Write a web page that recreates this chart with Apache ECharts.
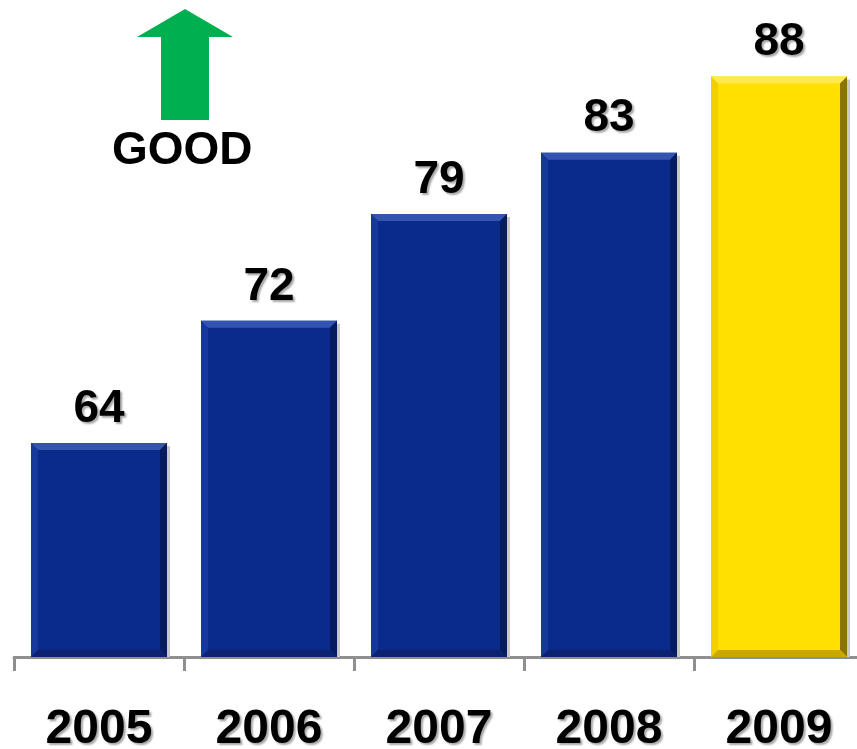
<!DOCTYPE html>
<html>
<head>
<meta charset="utf-8">
<script src="https://cdn.jsdelivr.net/npm/echarts@6/dist/echarts.min.js"></script>
<style>
html,body{margin:0;padding:0;background:#fff;}
#chart{width:857px;height:749px;}
</style>
</head>
<body>
<div id="chart"></div>
<script>
const categories = ['2005', '2006', '2007', '2008', '2009'];
const values = [64, 72, 79, 83, 88];
const highlightCategory = '2009';
const indicatorText = 'GOOD';

const palettes = {
  normal: { main: '#0a2a8c', top: '#3355ad', left: '#16389a', right: '#061c5e', bottom: '#0b2270' },
  highlight: { main: '#ffe000', top: '#ffea4d', left: '#f2cf00', right: '#8c7400', bottom: '#c9a900' }
};

const chart = echarts.init(document.getElementById('chart'));

function renderBar(params, api) {
  const idx = api.value(0);
  const val = api.value(1);
  const topPt = api.coord([idx, val]);
  const basePt = api.coord([idx, 50]);
  const w = api.size([1, 0])[0] * 0.8;
  const x0 = topPt[0] - w / 2, x1 = topPt[0] + w / 2;
  const y0 = topPt[1], y1 = basePt[1];
  const b = 7;
  const p = categories[idx] === highlightCategory ? palettes.highlight : palettes.normal;
  return {
    type: 'group',
    children: [
      { type: 'rect', shape: { x: x1, y: y0 + 3, width: 3, height: y1 - y0 - 3 }, style: { fill: '#c8c8c8' } },
      { type: 'rect', shape: { x: x0, y: y0, width: w, height: y1 - y0 }, style: { fill: p.main } },
      { type: 'polygon', shape: { points: [[x0, y0], [x1, y0], [x1 - b, y0 + b], [x0 + b, y0 + b]] }, style: { fill: p.top } },
      { type: 'polygon', shape: { points: [[x0, y0], [x0 + b, y0 + b], [x0 + b, y1 - b], [x0, y1]] }, style: { fill: p.left } },
      { type: 'polygon', shape: { points: [[x1, y0], [x1, y1], [x1 - b, y1 - b], [x1 - b, y0 + b]] }, style: { fill: p.right } },
      { type: 'polygon', shape: { points: [[x0, y1], [x0 + b, y1 - b], [x1 - b, y1 - b], [x1, y1]] }, style: { fill: p.bottom } },
      {
        type: 'text',
        x: topPt[0], y: y0 - 11,
        style: {
          text: String(val),
          fill: '#000',
          font: 'bold 46px "Liberation Sans", Arial, sans-serif',
          align: 'center', verticalAlign: 'bottom',
          textShadowColor: 'rgba(0,0,0,0.35)', textShadowOffsetX: 2, textShadowOffsetY: 2, textShadowBlur: 2
        }
      }
    ]
  };
}

chart.setOption({
  animation: false,
  grid: { left: 14, width: 850, top: 0, bottom: 92, containLabel: false, outerBoundsMode: 'none' },
  xAxis: {
    type: 'category',
    data: categories,
    boundaryGap: true,
    axisLine: { show: true, lineStyle: { color: '#8f8f8f', width: 3 } },
    axisTick: { show: true, alignWithLabel: false, interval: 0, length: 14, lineStyle: { color: '#8f8f8f', width: 3 } },
    axisLabel: {
      interval: 0, margin: 49, color: '#000',
      fontFamily: '"Liberation Sans", Arial, sans-serif', fontWeight: 'bold', fontSize: 48,
      textShadowColor: 'rgba(0,0,0,0.35)', textShadowOffsetX: 2, textShadowOffsetY: 2, textShadowBlur: 2
    }
  },
  yAxis: { type: 'value', min: 50, max: 93, show: false, splitLine: { show: false } },
  series: [{
    type: 'custom',
    renderItem: renderBar,
    data: values.map((v, i) => [i, v]),
    encode: { x: 0, y: 1 },
    clip: false
  }],
  graphic: [
    {
      type: 'polygon',
      shape: { points: [[185, 9], [233, 37], [209, 37], [209, 120], [161, 120], [161, 37], [137, 37]] },
      style: { fill: '#00b050' }
    },
    {
      type: 'text', left: 112, top: 128,
      style: { text: indicatorText, fill: '#000', font: 'bold 46px "Liberation Sans", Arial, sans-serif' }
    }
  ]
});
</script>
</body>
</html>
